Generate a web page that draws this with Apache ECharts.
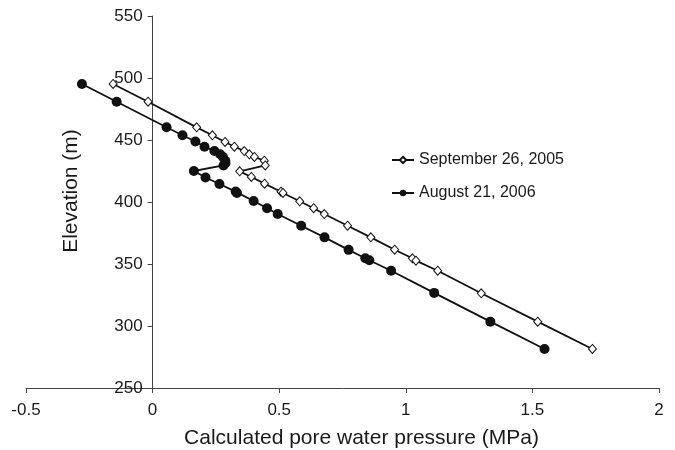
<!DOCTYPE html>
<html>
<head>
<meta charset="utf-8">
<script src="https://cdn.jsdelivr.net/npm/echarts@6/dist/echarts.min.js"></script>
<style>
  html, body { margin: 0; padding: 0; background: #fff; }
  #chart { width: 675px; height: 450px; }
</style>
</head>
<body>
<div id="chart"></div>
<script>
// Pore water pressure (MPa) versus elevation (m), two survey dates.
const seriesNames = ['September 26, 2005', 'August 21, 2006'];

const sep2005Pressure = [-0.156, -0.018, 0.174, 0.236, 0.286, 0.323, 0.362, 0.382, 0.402, 0.441, 0.445,
  0.344, 0.390, 0.442, 0.507, 0.515, 0.581, 0.636, 0.678, 0.770, 0.862, 0.956, 1.026, 1.040, 1.126,
  1.298, 1.521, 1.737];
const sep2005Elevation = [495.2, 480.9, 460.2, 453.8, 448.4, 444.6, 441.1, 438.5, 436.3, 433.3, 429.5,
  424.7, 420.2, 414.8, 408.3, 407.3, 400.6, 395.0, 390.3, 380.9, 371.5, 361.5, 354.6, 352.7, 344.6,
  326.4, 303.5, 281.5];

const aug2006Pressure = [-0.279, -0.142, 0.055, 0.118, 0.169, 0.205, 0.244, 0.267, 0.278, 0.287, 0.288, 0.280,
  0.163, 0.209, 0.264, 0.328, 0.333, 0.399, 0.452, 0.494, 0.587, 0.679, 0.774, 0.840, 0.856, 0.942,
  1.112, 1.334, 1.548];
const aug2006Elevation = [495.2, 480.8, 460.3, 453.8, 448.8, 444.6, 441.1, 438.5, 436.3, 433.3, 431.5, 429.5,
  425.0, 419.8, 414.5, 408.4, 407.3, 400.8, 394.9, 390.3, 380.9, 371.5, 361.4, 354.6, 353.0, 344.6,
  326.7, 303.5, 281.5];

const xTicks = { min: -0.5, max: 2, step: 0.5 };
const yTicks = { min: 250, max: 550, step: 50 };

function pairs(xs, ys) {
  return xs.map((x, i) => [x, ys[i]]);
}

const FONT = '"Liberation Sans", Arial, Helvetica, sans-serif';
const GRID = { left: 26, right: 16, top: 16, bottom: 62 };
const chartWidth = 675;
// Shift the vertical axis from the grid's left edge to where pressure = 0.
const zeroOffset = -(GRID.left + (0 - xTicks.min) / (xTicks.max - xTicks.min) *
  (chartWidth - GRID.left - GRID.right) - GRID.left);

const chart = echarts.init(document.getElementById('chart'), null, { renderer: 'canvas' });

chart.setOption({
  animation: false,
  backgroundColor: '#ffffff',
  grid: Object.assign({ containLabel: false, outerBoundsMode: 'none' }, GRID),
  legend: {
    orient: 'vertical',
    left: 386,
    top: 147,
    itemWidth: 22,
    itemHeight: 8,
    itemGap: 17,
    textStyle: { fontFamily: FONT, fontSize: 16, color: '#1a1a1a', lineHeight: 16 },
    data: seriesNames
  },
  xAxis: {
    type: 'value',
    min: xTicks.min,
    max: xTicks.max,
    interval: xTicks.step,
    name: 'Calculated pore water pressure (MPa)',
    nameLocation: 'middle',
    nameGap: 40,
    nameTextStyle: { fontFamily: FONT, fontSize: 21, color: '#1a1a1a', padding: [0, 0, 0, 38] },
    axisLine: { show: true, onZero: false, lineStyle: { color: '#444', width: 1 } },
    axisTick: { show: true, length: 5, lineStyle: { color: '#444' } },
    axisLabel: { fontFamily: FONT, fontSize: 17, color: '#1a1a1a', margin: 14 },
    splitLine: { show: false }
  },
  yAxis: {
    type: 'value',
    min: yTicks.min,
    max: yTicks.max,
    interval: yTicks.step,
    offset: zeroOffset,
    name: 'Elevation (m)',
    nameLocation: 'middle',
    nameGap: 71,
    nameRotate: 90,
    nameTextStyle: { fontFamily: FONT, fontSize: 21, color: '#1a1a1a', padding: [0, 0, 0, 22] },
    axisLine: { show: true, onZero: false, lineStyle: { color: '#444', width: 1 } },
    axisTick: { show: true, length: 5, lineStyle: { color: '#444' } },
    axisLabel: { fontFamily: FONT, fontSize: 17, color: '#1a1a1a', margin: 10 },
    splitLine: { show: false }
  },
  series: [
    {
      name: seriesNames[0],
      type: 'line',
      data: pairs(sep2005Pressure, sep2005Elevation),
      symbol: 'diamond',
      symbolSize: [8, 9],
      showAllSymbol: true,
      lineStyle: { color: '#111', width: 1.8 },
      itemStyle: { color: '#ffffff', borderColor: '#111', borderWidth: 1 },
      z: 3
    },
    {
      name: seriesNames[1],
      type: 'line',
      data: pairs(aug2006Pressure, aug2006Elevation),
      symbol: 'circle',
      symbolSize: 10,
      showAllSymbol: true,
      lineStyle: { color: '#111', width: 1.8 },
      itemStyle: { color: '#111', borderColor: '#111', borderWidth: 0 },
      z: 4
    }
  ]
});
</script>
</body>
</html>
